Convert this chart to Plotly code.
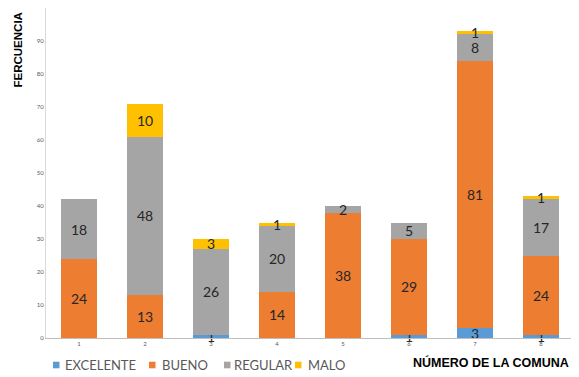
import plotly.graph_objects as go

comunas = ["1", "2", "3", "4", "5", "6", "7", "8"]
excelente = [0, 0, 1, 0, 0, 1, 3, 1]
bueno = [24, 13, 0, 14, 38, 29, 81, 24]
regular = [18, 48, 26, 20, 2, 5, 8, 17]
malo = [0, 10, 3, 1, 0, 0, 1, 1]
series = [("EXCELENTE", excelente, "#5B9BD5"), ("BUENO", bueno, "#ED7D31"),
          ("REGULAR", regular, "#A5A5A5"), ("MALO", malo, "#FFC000")]
yticks = [0, 10, 20, 30, 40, 50, 60, 70, 80, 90]

# page has an 8px body margin, so the figure is a bit smaller and offset
OFF = 8
W, H = 579 - OFF, 377 - OFF
ML, MR, MT, MB = 46 - OFF, 5, 0, 39
PW, PH = W - ML - MR, H - MT - MB
FONT = "Lato, 'Open Sans', sans-serif"


def px2x(px):
    return (px - OFF - ML) / PW


def py2y(py):
    return (H - MB - (py - OFF)) / PH


fig = go.Figure()
for name, vals, col in series:
    fig.add_trace(go.Bar(
        x=comunas, y=vals, name=name, marker=dict(color=col, line=dict(width=0)),
        text=[str(v) if v else "" for v in vals], textposition="inside",
        insidetextanchor="middle", constraintext="none", textangle=0,
        textfont=dict(size=14, color="#262626", family=FONT),
        cliponaxis=False, showlegend=False,
    ))

# manual compact legend (layout positions in page pixels)
legend_sq = [53, 149, 224, 295]
legend_tx = [63, 160, 232, 306]
shapes = []
annotations = []
cy = 365
for (name, _, col), sx, tx in zip(series, legend_sq, legend_tx):
    shapes.append(dict(type="rect", xref="paper", yref="paper",
                       x0=px2x(sx), x1=px2x(sx + 6.5), y0=py2y(cy + 3.3), y1=py2y(cy - 3.3),
                       fillcolor=col, line=dict(width=0)))
    annotations.append(dict(text=name, xref="paper", yref="paper", x=px2x(tx), y=py2y(cy),
                            xanchor="left", yanchor="middle", showarrow=False,
                            font=dict(size=13, color="#595959", family=FONT)))

annotations += [
    dict(text="<b>FERCUENCIA</b>", xref="paper", yref="paper", x=px2x(18), y=py2y(11),
         xanchor="center", yanchor="top", textangle=-90, showarrow=False,
         font=dict(size=11.5, color="#000000", family="Liberation Sans, Arial")),
    dict(text="<b>NÚMERO DE LA COMUNA</b>", xref="paper", yref="paper", x=px2x(571), y=py2y(362),
         xanchor="right", yanchor="middle", showarrow=False,
         font=dict(size=12.5, color="#000000", family="Liberation Sans, Arial")),
]

fig.update_layout(
    barmode="stack", bargap=0.44,
    width=W, height=H,
    margin=dict(l=ML, r=MR, t=MT, b=MB),
    plot_bgcolor="white", paper_bgcolor="white",
    uniformtext=dict(mode="show", minsize=14),
    font=dict(family=FONT, color="#595959"),
    showlegend=False,
    xaxis=dict(showline=True, linecolor="#BFBFBF", linewidth=1, ticks="", automargin=False,
               tickfont=dict(size=6, color="#595959"), showgrid=False),
    yaxis=dict(range=[0, 100], tickvals=yticks, showline=True, linecolor="#D9D9D9",
               linewidth=1, showgrid=False, zeroline=False, automargin=False,
               tickfont=dict(size=6, color="#595959"), ticks=""),
    shapes=shapes,
    annotations=annotations,
)
fig.write_html("out.html")
